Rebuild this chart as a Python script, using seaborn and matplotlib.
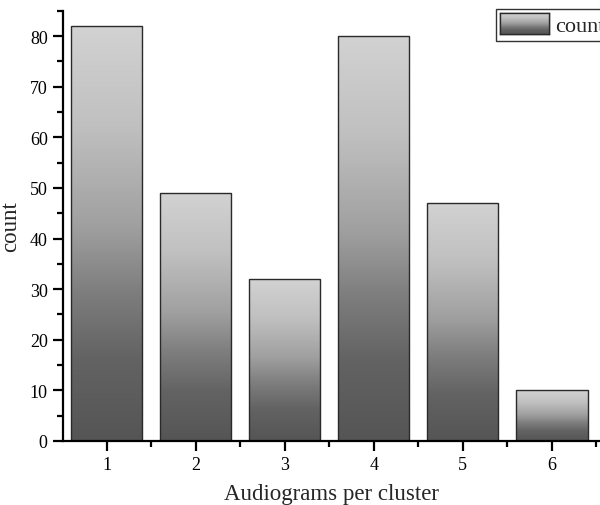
import numpy as np
import pandas as pd
import seaborn as sns
import matplotlib.pyplot as plt
from matplotlib.colors import LinearSegmentedColormap
from matplotlib.ticker import MultipleLocator
from matplotlib.patches import Patch

# data
clusters = [1, 2, 3, 4, 5, 6]
counts = [82, 49, 32, 80, 47, 10]
series_name = 'count'

sns.set_theme(style='ticks')
plt.rcParams['font.family'] = ['Liberation Serif', 'DejaVu Serif']

df = pd.DataFrame({'cluster': clusters, 'count': counts})

fig = plt.figure(figsize=(6, 5.06), dpi=100)
ax = fig.add_axes([0.105, 0.1265, 0.895, 0.85])

sns.barplot(data=df, x='cluster', y='count', native_scale=True, width=0.8,
            color='0.5', edgecolor='#2a2a2a', linewidth=1.0, ax=ax)

# vertical gradient, dark at the bottom, light at the top (not linear)
grad = LinearSegmentedColormap.from_list(
    'grey_grad',
    [(0.0, '#555555'), (0.2, '#636363'), (0.36, '#7e7e7e'),
     (0.52, '#a0a0a0'), (0.76, '#c0c0c0'), (1.0, '#d2d2d2')])
g = np.linspace(0, 1, 256).reshape(-1, 1)
for p in list(ax.patches):
    x0, y0 = p.get_x(), p.get_y()
    w, h = p.get_width(), p.get_height()
    ax.imshow(g, cmap=grad, extent=[x0, x0 + w, y0, y0 + h], origin='lower',
              aspect='auto', zorder=1.5, interpolation='bilinear')
    p.set_facecolor('none')
    p.set_zorder(2)

ax.set_xlim(0.51, 6.54)
ax.set_ylim(0, 85)
ax.set_xticks(clusters)
ax.xaxis.set_minor_locator(MultipleLocator(0.5))
ax.yaxis.set_major_locator(MultipleLocator(10))
ax.yaxis.set_minor_locator(MultipleLocator(5))

sns.despine(ax=ax)
for s in ['left', 'bottom']:
    ax.spines[s].set_linewidth(1.6)
    ax.spines[s].set_color('black')
ax.tick_params(which='major', direction='out', length=7, width=1.6,
               labelsize=13, colors='black', pad=4)
ax.tick_params(which='minor', direction='out', length=4, width=1.6, colors='black')

ax.set_xlabel('Audiograms per cluster', fontsize=16.5, labelpad=7)
ax.set_ylabel('count', fontsize=16.5, labelpad=6)

leg = fig.legend(handles=[Patch(facecolor='none', edgecolor='#2a2a2a', linewidth=1.0,
                                label=series_name)],
                 loc='upper left', bbox_to_anchor=(496 / 600, 1 - 10 / 506),
                 fontsize=16, frameon=True, fancybox=False, edgecolor='#333333',
                 framealpha=1, borderpad=0.2, borderaxespad=0, handlelength=2.2,
                 handleheight=1.05, handletextpad=0.25)
leg.get_frame().set_linewidth(1.0)

# gradient for the legend swatch
fig.canvas.draw()
bb = leg.get_patches()[0].get_window_extent().transformed(fig.transFigure.inverted())
lax = fig.add_axes([bb.x0, bb.y0, bb.width, bb.height], zorder=10)
lax.imshow(g, cmap=grad, origin='lower', aspect='auto', interpolation='bilinear')
lax.set_xticks([])
lax.set_yticks([])
for s in lax.spines.values():
    s.set_color('#2a2a2a')
    s.set_linewidth(1.0)

fig.savefig('out.png', dpi=100)
